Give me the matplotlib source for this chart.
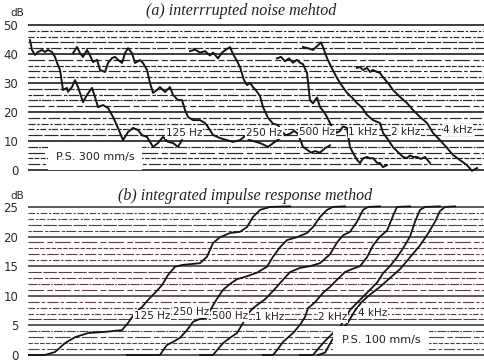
import matplotlib
matplotlib.use("Agg")
import matplotlib.pyplot as plt

# ---- (a) interrupted noise decay traces: paper position vs level (dB)
x_125 = [30, 32, 35, 38, 42, 45, 48, 52, 55, 57, 60, 62, 63, 67, 68, 72, 75, 78, 83, 87, 92, 95, 98,
         103, 108, 113, 118, 123, 128, 133, 138, 142, 147, 153, 158, 163, 168, 173, 178, 182]
db_125 = [44.8, 41.4, 39.7, 40.7, 41.4, 40.7, 41.4, 40.7, 39, 37, 34.5, 30, 27.6, 28.3, 27, 28.6, 31, 28.6,
          23.4, 25.9, 28.3, 25.2, 21.7, 22.4, 21.4, 18.3, 14.5, 10.3, 13.1, 14.5, 13.8, 12, 11.4, 8, 9.3,
          11.4, 9.7, 9.3, 8, 10.3]

x_250 = [73, 77, 80, 83, 87, 90, 93, 97, 100, 105, 108, 112, 115, 118, 122, 125, 128, 132, 135, 140, 143,
         147, 150, 153, 157, 160, 165, 170, 173, 178, 182, 185, 188, 193, 200, 205, 208, 213, 220, 227,
         233, 240, 245, 250, 260, 268, 275, 282]
db_250 = [40.3, 42.4, 40.3, 39, 41.4, 39.5, 37.2, 38, 34.5, 33.8, 36.9, 38.6, 39, 38, 36.9, 40.3, 42, 40.3,
          36.9, 37.9, 36.9, 34.5, 30, 26.6, 27.6, 28.6, 26.9, 28.6, 25.9, 24.1, 24.1, 20.7, 18.3, 17.2,
          17.2, 16.2, 14.8, 12.1, 11, 10.3, 9.7, 10.3, 11.7, 10.3, 9.3, 8, 9.7, 11.4]

x_500 = [190, 195, 200, 205, 210, 213, 218, 222, 226, 230, 233, 237, 240, 244, 247, 250, 253, 257, 260,
         263, 268, 273, 278, 282, 286, 290, 294, 298, 303, 307, 311, 315, 320, 325, 330]
db_500 = [41, 41.5, 40.5, 41, 39.5, 40.5, 38.5, 40.5, 41.5, 42.4, 40, 37.6, 35.5, 31, 29.3, 30, 28.6, 27,
          25.5, 21.7, 18, 16, 15.5, 13, 12, 12.5, 13.5, 12.5, 8, 7, 6, 6.5, 6, 7.5, 8.5]

x_1k = [277, 281, 285, 289, 293, 297, 300, 303, 307, 310, 313, 317, 320, 324, 327, 332, 337, 340, 343,
        347, 350, 353, 357, 360, 363, 367, 370, 373, 377, 380, 383, 387]
db_1k = [38.5, 39, 37.5, 38.5, 37, 38, 37, 36.5, 33.5, 24, 23, 25, 21.7, 20, 18.3, 14.8, 12.8, 13.5, 15,
         14.5, 7.9, 5.9, 3.5, 2.4, 4, 4.5, 4, 4.1, 2.5, 2.4, 1, 1.7]

x_2k = [303, 308, 313, 318, 321, 323, 327, 332, 337, 342, 347, 352, 357, 362, 367, 373, 380, 383, 387,
        393, 397, 400, 403, 407, 410, 413, 417, 421, 425, 430]
db_2k = [42.4, 42, 41.4, 43, 44, 42.4, 38.6, 35, 31.7, 29, 26.6, 25, 23.1, 21.5, 19, 17.2, 16.2, 12.8, 11,
         7.9, 6.5, 5.5, 4.5, 4.1, 5, 4.5, 4.5, 3.8, 4.5, 2.4]

x_4k = [357, 360, 363, 367, 370, 373, 377, 380, 383, 388, 393, 400, 407, 413, 420, 427, 433, 440, 447,
        453, 460, 467, 472, 477]
db_4k = [35.2, 35.5, 34.5, 35.2, 33.8, 34.5, 33.8, 33.5, 32, 30, 27.6, 25.2, 23.1, 20.7, 18.3, 16.2, 12.8,
         10.3, 7.6, 5.2, 3.4, 1.7, -0.3, 0.7]

top_curves = [(x_125, db_125), (x_250, db_250), (x_500, db_500),
              (x_1k, db_1k), (x_2k, db_2k), (x_4k, db_4k)]
top_labels = ["125 Hz", "250 Hz", "500 Hz", "1 kHz", "2 kHz", "4 kHz"]
top_label_x = [184, 264, 317, 363, 406, 458]
top_label_db = [12.8, 12.8, 13.1, 13.1, 13.1, 13.8]

# ---- (b) integrated impulse response traces
bx_125 = [25, 45, 55, 65, 75, 88, 105, 122, 128, 135, 142, 148, 155, 162, 168, 175, 182, 200, 207, 213,
          220, 230, 240, 247, 253, 260, 270, 290]
bdb_125 = [0, 0, 0.5, 2.0, 3.0, 3.7, 3.9, 4.2, 5.4, 7.1, 8.1, 9.3, 10.5, 11.8, 13.5, 14.9, 15.2, 15.5,
           16.6, 18.9, 19.9, 20.6, 20.8, 21.6, 23.3, 24.5, 25, 25.1]

bx_250 = [127, 160, 162, 167, 173, 180, 187, 193, 200, 207, 210, 217, 223, 230, 237, 247, 257, 267, 273,
          280, 287, 297, 307, 313, 320, 327, 333, 345]
bdb_250 = [0, 0, 0.5, 1.7, 2.2, 2.9, 4.2, 5.6, 6.1, 6.3, 7.5, 9.5, 11, 12, 12.8, 13.3, 13.9, 14.9, 16.6,
           18.2, 19.4, 19.9, 20.6, 21.6, 23.3, 24.5, 25, 25.1]

bx_500 = [200, 213, 217, 223, 230, 237, 243, 247, 253, 260, 265, 273, 283, 290, 300, 310, 320, 330, 337,
          343, 350, 357, 363, 368, 380]
bdb_500 = [0, 0, 0.8, 2, 2.9, 3.7, 5.4, 6.8, 7.9, 8.8, 9.4, 10.8, 12.7, 14, 14.7, 15, 15.5, 17, 19, 20.2,
           20.8, 22.5, 24.5, 25, 25.1]

bx_1k = [263, 273, 277, 283, 293, 300, 305, 308, 315, 323, 330, 337, 345, 352, 360, 367, 373, 380, 387,
         393, 397, 410]
bdb_1k = [0, 0, 0.8, 2.2, 3.7, 5.1, 6.4, 7.9, 8.9, 10.5, 11.5, 12.7, 14, 14.5, 15, 16.5, 18.5, 20, 21,
          23.5, 25, 25.1]

bx_2k = [300, 313, 317, 323, 333, 340, 345, 350, 357, 367, 377, 383, 390, 397, 403, 410, 415, 420, 425, 440]
bdb_2k = [0, 0, 0.8, 2, 3.7, 4.7, 6.2, 7.6, 8.8, 10.5, 12.2, 13.8, 15, 16.5, 18, 20, 22.5, 24.5, 25, 25.1]

bx_4k = [318, 325, 332, 340, 348, 355, 362, 370, 380, 390, 400, 410, 420, 428, 435, 440, 445, 455]
bdb_4k = [0, 0.4, 2.5, 4, 5.5, 7.5, 9, 10.2, 11.5, 13, 14.5, 16.5, 18.5, 20.5, 22.5, 24.3, 25, 25.1]

bottom_curves = [(bx_125, bdb_125), (bx_250, bdb_250), (bx_500, bdb_500),
                 (bx_1k, bdb_1k), (bx_2k, bdb_2k), (bx_4k, bdb_4k)]
bottom_labels = ["125 Hz", "250 Hz", "500 Hz", "1 kHz", "2 kHz", "4 kHz"]
bottom_label_x = [152, 191, 230, 270, 333, 373]
bottom_label_db = [6.6, 7.3, 6.6, 6.4, 6.4, 7.1]

top_ticks = [0, 10, 20, 30, 40, 50]
bottom_ticks = [0, 5, 10, 15, 20, 25]

# dash styles for the chart-paper rulings
dash_cycle = [(6, 1.5, 2, 1.5), (10, 2, 3, 2), (4, 1.2), (14, 3, 5, 2), (8, 1, 1.5, 1),
              (3, 1, 9, 2), (12, 1.5), (5, 2, 2, 1)]

ink = "#151515"
fig = plt.figure(figsize=(4.85, 3.63), dpi=100)
fig.patch.set_facecolor("white")

ax_a = fig.add_axes([28 / 485, 0.5197, 457 / 485, 0.4234])
ax_b = fig.add_axes([28 / 485, 0.0058, 457 / 485, 0.4339])


def paper(ax, levels, solid, solid_color, dash_color, lw_solid, lw_dash):
    for i, lv in enumerate(levels):
        if lv in solid:
            ax.axhline(lv, color=solid_color, lw=lw_solid, zorder=1)
        else:
            ax.axhline(lv, color=dash_color, lw=lw_dash, zorder=1,
                       dashes=dash_cycle[i % len(dash_cycle)])


def frame(ax, ylim, ticks):
    ax.set_xlim(28, 485)
    ax.set_ylim(*ylim)
    for s in ax.spines.values():
        s.set_visible(False)
    ax.set_xticks([])
    ax.set_yticks(ticks)
    ax.tick_params(axis="y", length=0, pad=7, labelsize=8.5, labelcolor="#2a2a2a")
    ax.patch.set_alpha(0)


label_box = dict(facecolor="white", edgecolor="none", pad=0.6)

# panel (a)
paper(ax_a, list(range(0, 51, 2)), {0, 10, 20, 30, 40, 50}, "#1e1e1e", "#2a2a2a", 1.2, 0.85)
frame(ax_a, (-1.5, 51.5), top_ticks)
for x, y in top_curves:
    ax_a.plot(x, y, color=ink, lw=1.4, zorder=3, solid_joinstyle="round")
for name, lx, ly in zip(top_labels, top_label_x, top_label_db):
    ax_a.text(lx, ly, name, fontsize=7.5, ha="center", va="center", color="#222",
              bbox=label_box, zorder=4)
ax_a.text(95, 4.5, "P.S. 300 mm/s", fontsize=8, ha="center", va="center", color="#222",
          bbox=dict(facecolor="white", edgecolor="none", boxstyle="square,pad=0.7"), zorder=4)

# panel (b)
paper(ax_b, list(range(0, 26)), {0, 5, 10, 15, 20, 25}, "#3b2a30", "#5a3e4c", 1.1, 0.8)
frame(ax_b, (-1, 25.6), bottom_ticks)
for x, y in bottom_curves:
    ax_b.plot(x, y, color=ink, lw=1.3, zorder=3, solid_joinstyle="round")
for name, lx, ly in zip(bottom_labels, bottom_label_x, bottom_label_db):
    ax_b.text(lx, ly, name, fontsize=7.5, ha="center", va="center", color="#222",
              bbox=label_box, zorder=4)
ax_b.text(381, 2.5, "P.S. 100 mm/s", fontsize=8, ha="center", va="center", color="#222",
          bbox=dict(facecolor="white", edgecolor="none", boxstyle="square,pad=0.8"), zorder=4)

fig.text(17 / 485, 1 - 13 / 363, "dB", fontsize=7.5, ha="center", va="center", color="#2a2a2a")
fig.text(17 / 485, 1 - 196 / 363, "dB", fontsize=7.5, ha="center", va="center", color="#2a2a2a")
fig.text(241 / 485, 1 - 11 / 363, "(a) interrrupted noise mehtod", fontsize=11.5,
         family="Liberation Serif", style="italic", ha="center", va="center", color="#222")
fig.text(245 / 485, 1 - 196 / 363, "(b) integrated impulse response method", fontsize=11.5,
         family="Liberation Serif", style="italic", ha="center", va="center", color="#222")

fig.savefig("out.png", dpi=100, facecolor="white")
